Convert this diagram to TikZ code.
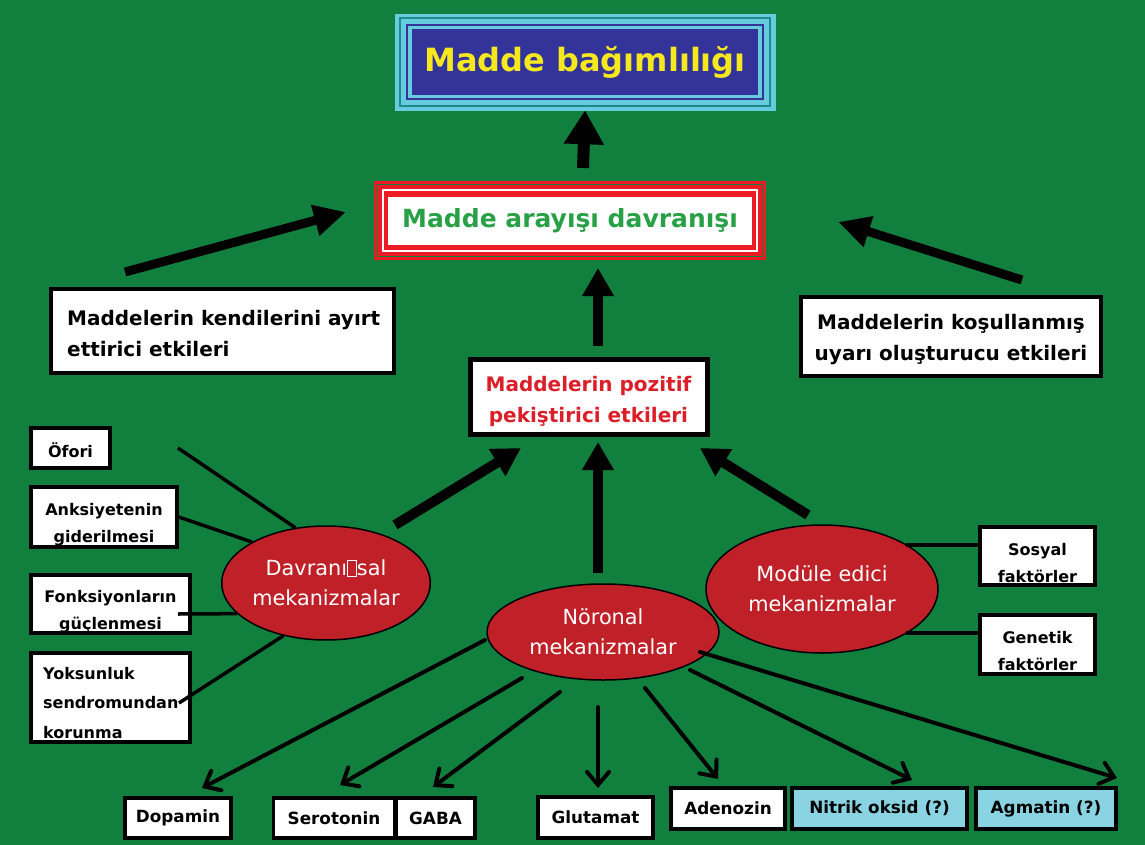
\documentclass[tikz,border=0pt]{standalone}
\usepackage{fontspec}
\setmainfont{DejaVu Sans}
\usetikzlibrary{arrows.meta,shapes.geometric}
\definecolor{bg}{RGB}{17,128,62}
\definecolor{ellred}{RGB}{192,32,40}
\definecolor{navyc}{RGB}{51,51,153}
\definecolor{cyanc}{RGB}{102,204,221}
\definecolor{tealline}{RGB}{30,140,140}
\definecolor{titleyellow}{RGB}{245,232,30}
\definecolor{framered}{RGB}{237,28,36}
\definecolor{textgreen}{RGB}{40,160,70}
\definecolor{textred}{RGB}{220,30,40}
\definecolor{lightblue}{RGB}{138,211,226}
\newcommand\missingglyph{{\fboxsep=0pt\fboxrule=0.6pt\fbox{\rule{0pt}{0.72em}\hspace{0.42em}}}}
\begin{document}
\begin{tikzpicture}[x=1pt,y=-1pt,
  wbox/.style={draw=black,line width=3.5pt,fill=white,inner sep=0pt},
  bigbox/.style={draw=black,line width=4pt,fill=white,inner sep=0pt},
  lbl/.style={font=\bfseries\fontsize{16}{27}\selectfont,text=black,inner sep=0pt,align=center},
  blbl/.style={font=\bfseries\fontsize{16.8}{27}\selectfont,text=black,inner sep=0pt,align=center},
  biglbl/.style={font=\bfseries\fontsize{20}{31}\selectfont,text=black,inner sep=0pt},
  mech/.style={ellipse,draw=black,line width=1.5pt,fill=ellred,inner sep=0pt,
    text=white,font=\fontsize{20.8}{30}\selectfont,align=center},
  thinline/.style={draw=black,line width=3.5pt},
  bigarrow/.style={draw=black,line width=9pt,-{Triangle[length=32pt,width=30pt]}},
  midarrow/.style={draw=black,line width=10pt,-{Triangle[length=28pt,width=30pt]}},
  nerve/.style={draw=black,line width=4pt,line cap=round,-{Straight Barb[length=13pt,width=22pt,line cap=round]}}
]
\fill[bg] (0,0) rectangle (1145,845);
\useasboundingbox (0,0) rectangle (1145,845);

% ---------- title ----------
\node[fill=cyanc,draw=cyanc,line width=0.5pt,minimum width=380pt,minimum height=96pt,inner sep=0pt] (titleframe) at (585,62) {};
\draw[tealline,line width=1.2pt] (400,18) rectangle (770,106);
\draw[navyc,line width=1.5pt] (407,25) rectangle (763,99);
\node[fill=navyc,minimum width=346pt,minimum height=66pt,inner sep=0pt,
  text=titleyellow,font=\bfseries\fontsize{32}{36}\selectfont] (title) at (585,62) {Madde bağımlılığı};

% ---------- seeking behaviour ----------
\node[fill=framered,minimum width=392pt,minimum height=79pt,inner sep=0pt] (arayisframe) at (570,220.5) {};
\draw[bg,line width=1pt] (377.5,184.5) rectangle (762.5,256.5);
\draw[white,line width=1.2pt] (383,190) rectangle (757,251);
\node[fill=white,minimum width=364pt,minimum height=48pt,inner sep=0pt,
  text=textgreen,font=\bfseries\fontsize{25}{30}\selectfont] (arayis) at (570,221) {Madde arayışı davranışı};

\coordinate (ta) at (583,168);
\draw[draw=black,line width=12pt,-{Triangle[length=34pt,width=38pt]}] (ta) -- (titleframe.south);

% ---------- upper side boxes ----------
\node[bigbox,minimum width=343pt,minimum height=84pt] (ayirt) at (222.5,331) {};
\node[biglbl,align=left,anchor=west] (ayirtt) at (67,334) {Maddelerin kendilerini ayırt\\ettirici etkileri};

\node[bigbox,minimum width=300pt,minimum height=79pt] (kosul) at (951,336.5) {};
\node[biglbl,align=center] (kosult) at (951,340) {Maddelerin koşullanmış\\uyarı oluşturucu etkileri};

\node[draw=black,line width=5pt,fill=white,inner sep=0pt,minimum width=237pt,minimum height=75pt] (pozitif) at (588.5,396.5) {};
\node[biglbl,text=textred,align=center] (pozitift) at (588.5,401) {Maddelerin pozitif\\pekiştirici etkileri};

\coordinate (la1) at (125,272);
\coordinate (la2) at (346,212);
\coordinate (ra1) at (1022,280);
\coordinate (ra2) at (838,222);
\coordinate (ca1) at (598,346);
\coordinate (ca2) at (598,268);
\draw[bigarrow] (la1) -- (la2);
\draw[bigarrow] (ra1) -- (ra2);
\draw[midarrow] (ca1) -- (ca2);

% ---------- mechanisms ----------
\node[mech,minimum width=204pt,minimum height=114pt] (davr) at (326,583) {Davranı\missingglyph sal\\mekanizmalar};
\node[mech,minimum width=232pt,minimum height=96pt] (noron) at (603,632) {Nöronal\\mekanizmalar};
\node[mech,minimum width=232pt,minimum height=128pt] (modul) at (822,589) {Modüle edici\\mekanizmalar};

\coordinate (pa1) at (395,525);
\coordinate (pa2) at (521,448);
\coordinate (pb1) at (598,573);
\coordinate (pb2) at (598,442);
\coordinate (pc1) at (808,515);
\coordinate (pc2) at (700,448);
\draw[midarrow] (pa1) -- (pa2);
\draw[midarrow] (pb1) -- (pb2);
\draw[midarrow] (pc1) -- (pc2);

% ---------- left boxes ----------
\node[wbox,minimum width=79pt,minimum height=40pt] (ofori) at (70.5,448) {};
\node[lbl] (oforit) at (70.5,450) {Öfori};
\node[wbox,minimum width=146pt,minimum height=60pt] (anks) at (104,517) {};
\node[lbl] (ankst) at (104,525) {Anksiyetenin\\giderilmesi};
\node[wbox,minimum width=159pt,minimum height=58pt] (fonk) at (110.5,604) {};
\node[lbl] (fonkt) at (110.5,612) {Fonksiyonların\\güçlenmesi};
\node[wbox,minimum width=159pt,minimum height=89pt] (yoks) at (110.5,697.5) {};
\node[lbl,align=left,anchor=west,font=\bfseries\fontsize{16}{29.5}\selectfont] (yokst) at (43,703) {Yoksunluk\\sendromundan\\korunma};

\coordinate (o1) at (178,448);
\coordinate (f1) at (178,614);
\coordinate (y1) at (179,703);
\draw[thinline] (o1) -- (davr.119);
\draw[thinline] (anks.east) -- (davr.151);
\draw[thinline] (f1) -- (davr.199);
\draw[thinline] (y1) -- (davr.231);

% ---------- right boxes ----------
\node[wbox,minimum width=115pt,minimum height=58pt] (sosyal) at (1037.5,556) {};
\node[lbl] (sosyalt) at (1037.5,563) {Sosyal\\faktörler};
\node[wbox,minimum width=115pt,minimum height=59pt] (genetik) at (1037.5,644.5) {};
\node[lbl] (genetikt) at (1037.5,651) {Genetik\\faktörler};

\coordinate (sw) at (980,545);
\coordinate (gw) at (980,633);
\coordinate (m1) at (modul.28);
\coordinate (m2) at (modul.332);
\draw[thinline] (sw) -- (sw -| m1);
\draw[thinline] (gw) -- (gw -| m2);

% ---------- bottom boxes ----------
\node[wbox,minimum width=106pt,minimum height=40pt,blbl] (dopamin) at (178,818) {Dopamin};
\node[wbox,minimum width=121pt,minimum height=40pt,blbl] (seroton) at (334,818) {Serotonin};
\node[wbox,minimum width=79pt,minimum height=40pt,blbl] (gaba) at (435.5,818) {GABA};
\node[wbox,minimum width=115pt,minimum height=41pt,blbl] (glutamat) at (595.5,817.5) {Glutamat};
\node[wbox,minimum width=114pt,minimum height=41pt,blbl] (adenozin) at (728,808.5) {Adenozin};
\node[wbox,fill=lightblue,minimum width=175pt,minimum height=41pt,blbl] (nitrik) at (879.5,808.5) {Nitrik oksid (?)};
\node[wbox,fill=lightblue,minimum width=140pt,minimum height=41pt,blbl] (agmatin) at (1046,808.5) {Agmatin (?)};

\coordinate (n1) at (485,640);  \coordinate (e1) at (202,788);
\coordinate (n2) at (522,678);  \coordinate (e2) at (340,785);
\coordinate (n3) at (560,692);  \coordinate (e3) at (433,787);
\coordinate (n4) at (598,707);  \coordinate (e4) at (598,788);
\coordinate (n5) at (645,688);  \coordinate (e5) at (718,779);
\coordinate (n6) at (690,670);  \coordinate (e6) at (912,780);
\coordinate (n7) at (700,652);  \coordinate (e7) at (1117,778);
\draw[nerve] (n1) -- (e1);
\draw[nerve] (n2) -- (e2);
\draw[nerve] (n3) -- (e3);
\draw[nerve] (n4) -- (e4);
\draw[nerve] (n5) -- (e5);
\draw[nerve] (n6) -- (e6);
\draw[nerve] (n7) -- (e7);
\end{tikzpicture}
\end{document}
